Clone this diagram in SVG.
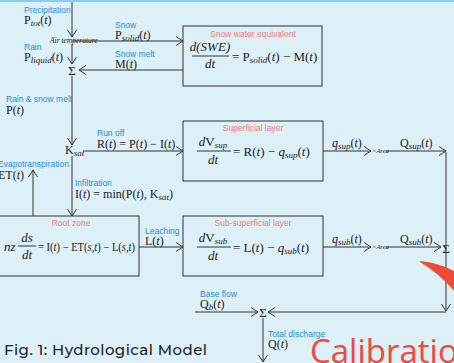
<svg xmlns="http://www.w3.org/2000/svg" width="454" height="363" viewBox="0 0 454 363">
<style>
.lbl{font-family:"Liberation Sans",Arial,sans-serif;font-size:8.5px;fill:#1d8fd3}
.ttl{font-family:"Liberation Sans",Arial,sans-serif;font-size:8.5px;fill:#f47a7a;text-anchor:middle}
.m{font-family:"Liberation Serif","DejaVu Serif",serif;font-size:12px;fill:#222}
.eq{font-family:"Liberation Serif","DejaVu Serif",serif;font-size:13px;fill:#222}
.it{font-style:italic}
.sb{font-size:9px;font-style:italic}
.tiny{font-family:"Liberation Serif","DejaVu Serif",serif;font-size:7.5px;font-style:italic;fill:#222}
.area{font-family:"Liberation Serif","DejaVu Serif",serif;font-size:6.5px;font-style:italic;fill:#222}
.ln{stroke:#333;stroke-width:1;fill:none}
.box{stroke:#333;stroke-width:1;fill:none}
.ar{marker-end:url(#chev)}
.sig{font-family:"Liberation Serif","DejaVu Serif",serif;font-size:13px;fill:#222;text-anchor:middle}
</style>
<defs>
<marker id="chev" viewBox="0 0 8 10" refX="7.5" refY="5" markerWidth="8" markerHeight="10" markerUnits="userSpaceOnUse" orient="auto">
<path d="M0.5,0.5 L7.5,5 L0.5,9.5" fill="none" stroke="#333" stroke-width="1"/>
</marker>
</defs>

<!-- background and top rule -->
<rect width="454" height="363" fill="#ddeff7"/>
<rect width="454" height="2" fill="#86d0f3"/>

<!-- connectors -->
<g id="connectors">
<line class="ln ar" x1="72" y1="2" x2="72" y2="37"/>
<line class="ln" x1="98" y1="41" x2="72" y2="41"/>
<line class="ln ar" x1="98" y1="41" x2="183" y2="41"/>
<line class="ln ar" x1="72" y1="44" x2="72" y2="64"/>
<line class="ln ar" x1="183" y1="70" x2="79" y2="70"/>
<line class="ln ar" x1="72" y1="76" x2="72" y2="145"/>
<line class="ln ar" x1="83" y1="151" x2="183" y2="151"/>
<line class="ln ar" x1="72" y1="156" x2="72" y2="216"/>
<line class="ln ar" x1="33" y1="216" x2="33" y2="170"/>
<line class="ln ar" x1="139" y1="247" x2="183" y2="247"/>
<line class="ln ar" x1="323" y1="151" x2="371" y2="151"/>
<line class="ln ar" x1="386" y1="151" x2="446" y2="151"/>
<line class="ln ar" x1="323" y1="247" x2="371" y2="247"/>
<line class="ln ar" x1="386" y1="247" x2="441" y2="247"/>
<line class="ln ar" x1="446" y1="152" x2="446" y2="311"/>
<line class="ln ar" x1="446" y1="312" x2="268" y2="312"/>
<line class="ln ar" x1="195" y1="312" x2="258" y2="312"/>
<line class="ln ar" x1="263" y1="318" x2="263" y2="362"/>
</g>

<!-- inputs and flow labels -->
<g id="precipitation">
<text class="lbl" x="24" y="13">Precipitation</text>
<text class="m" x="24" y="24">P<tspan class="sb" dy="2">tot</tspan><tspan dy="-2">(</tspan><tspan class="it">t</tspan>)</text>
</g>
<g id="air-temperature">
<text class="tiny" x="50" y="43">Air temperature</text>
</g>
<g id="snow">
<text class="lbl" x="115" y="28">Snow</text>
<text class="m" x="115" y="39">P<tspan class="sb" dy="2">solid</tspan><tspan dy="-2">(</tspan><tspan class="it">t</tspan>)</text>
</g>
<g id="rain">
<text class="lbl" x="24" y="50">Rain</text>
<text class="m" x="24" y="61">P<tspan class="sb" dy="2">liquid</tspan><tspan dy="-2">(</tspan><tspan class="it">t</tspan>)</text>
</g>
<g id="snow-melt">
<text class="lbl" x="115" y="57">Snow melt</text>
<text class="m" x="115" y="68">M(<tspan class="it">t</tspan>)</text>
</g>
<g id="sum-top">
<text class="sig" x="72" y="75">Σ</text>
</g>
<g id="rain-snow-melt">
<text class="lbl" x="6" y="102">Rain &amp; snow melt</text>
<text class="m" x="6" y="114">P(<tspan class="it">t</tspan>)</text>
</g>
<g id="ksat">
<text class="m" x="65" y="154">K<tspan class="sb" dy="2">sat</tspan></text>
</g>
<g id="run-off">
<text class="lbl" x="97" y="136">Run off</text>
<text class="m" x="97" y="148">R(<tspan class="it">t</tspan>) = P(<tspan class="it">t</tspan>) − I(<tspan class="it">t</tspan>)</text>
</g>
<g id="evapotranspiration">
<text class="lbl" x="-2" y="167">Evapotranspiration</text>
<text class="m" x="-2" y="179">ET(<tspan class="it">t</tspan>)</text>
</g>
<g id="infiltration">
<text class="lbl" x="75" y="186">Infiltration</text>
<text class="m" x="75" y="198">I(<tspan class="it">t</tspan>) = min(P(<tspan class="it">t</tspan>), K<tspan class="sb" dy="2">sat</tspan><tspan dy="-2">)</tspan></text>
</g>
<g id="leaching">
<text class="lbl" x="145" y="234">Leaching</text>
<text class="m" x="145" y="245">L(<tspan class="it">t</tspan>)</text>
</g>

<!-- reservoirs -->
<g id="snow-water-equivalent">
<rect class="box" x="183" y="26" width="139" height="60"/>
<text class="ttl" x="253" y="37">Snow water equivalent</text>
<text class="eq it" x="210" y="51" text-anchor="middle">d(SWE)</text>
<line class="ln" x1="192" y1="56" x2="229" y2="56"/>
<text class="eq it" x="210" y="68" text-anchor="middle">dt</text>
<text class="eq" x="232" y="61">= P<tspan class="sb" dy="2">solid</tspan><tspan dy="-2">(</tspan><tspan class="it">t</tspan>) − M(<tspan class="it">t</tspan>)</text>
</g>
<g id="superficial-layer">
<rect class="box" x="183" y="121" width="140" height="60"/>
<text class="ttl" x="253" y="131">Superficial layer</text>
<text class="eq" x="213" y="146" text-anchor="middle"><tspan class="it">d</tspan>V<tspan class="sb" dy="2">sup</tspan></text>
<line class="ln" x1="197" y1="151" x2="231" y2="151"/>
<text class="eq it" x="213" y="164" text-anchor="middle">dt</text>
<text class="eq" x="233" y="156">= R(<tspan class="it">t</tspan>) − <tspan class="it">q</tspan><tspan class="sb" dy="2">sup</tspan><tspan dy="-2">(</tspan><tspan class="it">t</tspan>)</text>
</g>
<g id="root-zone">
<rect class="box" x="-5" y="216" width="144" height="60"/>
<text class="ttl" x="71" y="226">Root zone</text>
<text class="eq it" x="4" y="251">nz</text>
<text class="eq it" x="27" y="242" text-anchor="middle">ds</text>
<line class="ln" x1="18" y1="246" x2="36" y2="246"/>
<text class="eq it" x="27" y="259" text-anchor="middle">dt</text>
<text class="m" x="38" y="251" style="font-size:11.5px" textLength="97" lengthAdjust="spacingAndGlyphs">= I(<tspan class="it">t</tspan>) − ET(<tspan class="it">s</tspan>,<tspan class="it">t</tspan>) − L(<tspan class="it">s</tspan>,<tspan class="it">t</tspan>)</text>
</g>
<g id="sub-superficial-layer">
<rect class="box" x="183" y="216" width="140" height="60"/>
<text class="ttl" x="253" y="226">Sub-superficial layer</text>
<text class="eq" x="213" y="242" text-anchor="middle"><tspan class="it">d</tspan>V<tspan class="sb" dy="2">sub</tspan></text>
<line class="ln" x1="197" y1="247" x2="231" y2="247"/>
<text class="eq it" x="213" y="260" text-anchor="middle">dt</text>
<text class="eq" x="233" y="252">= L(<tspan class="it">t</tspan>) − <tspan class="it">q</tspan><tspan class="sb" dy="2">sub</tspan><tspan dy="-2">(</tspan><tspan class="it">t</tspan>)</text>
</g>

<!-- outflows -->
<g id="q-sup">
<text class="m" x="332" y="147"><tspan class="it">q</tspan><tspan class="sb" dy="2">sup</tspan><tspan dy="-2">(</tspan><tspan class="it">t</tspan>)</text>
<text class="area" x="372" y="153">×Area</text>
<text class="m" x="400" y="147">Q<tspan class="sb" dy="2">sup</tspan><tspan dy="-2">(</tspan><tspan class="it">t</tspan>)</text>
</g>
<g id="q-sub">
<text class="m" x="332" y="243"><tspan class="it">q</tspan><tspan class="sb" dy="2">sub</tspan><tspan dy="-2">(</tspan><tspan class="it">t</tspan>)</text>
<text class="area" x="372" y="249">×Area</text>
<text class="m" x="400" y="243">Q<tspan class="sb" dy="2">sub</tspan><tspan dy="-2">(</tspan><tspan class="it">t</tspan>)</text>
</g>
<g id="sum-right">
<text class="sig" x="446" y="253">Σ</text>
</g>
<g id="base-flow">
<text class="lbl" x="200" y="297">Base flow</text>
<text class="m" x="200" y="308">Q<tspan class="sb" dy="2">b</tspan><tspan dy="-2">(</tspan><tspan class="it">t</tspan>)</text>
</g>
<g id="sum-bottom">
<text class="sig" x="263" y="317">Σ</text>
</g>
<g id="total-discharge">
<text class="lbl" x="268" y="337">Total discharge</text>
<text class="m" x="268" y="348">Q(<tspan class="it">t</tspan>)</text>
</g>

<!-- caption and overlay -->
<text x="4" y="355" font-family="Montserrat,'Noto Sans',sans-serif" font-size="15" font-weight="500" fill="#222" textLength="203">Fig. 1: Hydrological Model</text>
<path d="M420,261 Q440,263 456,272 L456,293 Q440,274 420,262 Z" fill="#f04a3a"/>
<text x="310" y="363" font-family="'Open Sans','Noto Sans',sans-serif" font-size="33" fill="#f04a3a">Calibratio</text>
</svg>
